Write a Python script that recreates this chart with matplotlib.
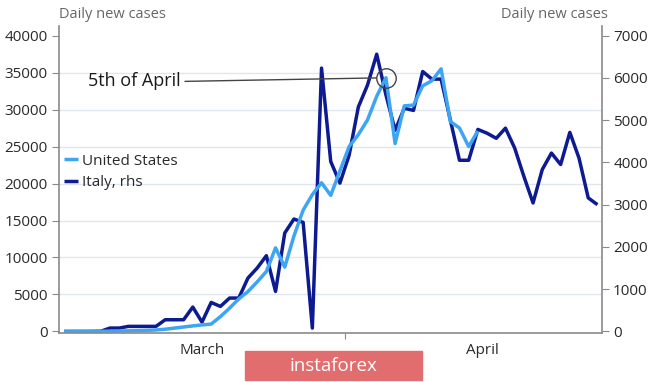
import matplotlib
matplotlib.use('Agg')
import matplotlib.pyplot as plt
from matplotlib.patches import Rectangle
from matplotlib.ticker import FixedLocator

# daily new cases, one value per day starting 1 March
us_cases = [0, 0, 10, 20, 30, 40, 60, 80, 110, 150,
            200, 300, 450, 600, 750, 880, 1000, 2000, 3150, 4400,
            5400, 6700, 8100, 11300, 8700, 12900, 16400, 18500, 20100, 18400,
            21700, 25000, 26600, 28600, 31800, 34300, 25400, 30500, 30600, 33200,
            33900, 35500, 28400, 27500, 25000, 27100]
italy_cases = [0, 0, 0, 0, 5, 80, 80, 120, 120, 120,
               120, 277, 277, 277, 577, 220, 686, 592, 790, 790,
               1264, 1500, 1792, 947, 2329, 2660, 2580, 80, 6230, 4020,
               3510, 4170, 5310, 5830, 6560, 5600, 4760, 5280, 5230, 6150,
               5970, 5970, 5010, 4050, 4050, 4780, 4690, 4570, 4810, 4340,
               3670, 3040, 3830, 4220, 3950, 4710, 4100, 3160, 3000]
left_ticks = list(range(0, 40001, 5000))
right_ticks = list(range(0, 7001, 1000))
months = ['March', 'April']
month_centers = [15, 45.5]
month_border = 30.5
peak_day = 35

us_color = '#3da5f2'
italy_color = '#0d1a90'
text_color = '#2a2a2a'
spine_color = '#8a8a8a'

plt.rcParams.update({'font.family': ['Open Sans', 'DejaVu Sans'], 'font.size': 11})

fig = plt.figure(figsize=(6.65, 3.82), dpi=100)
ax = fig.add_axes([0.088, 0.1275, 0.8173, 0.8045])
ax2 = ax.twinx()
ax.set_zorder(ax2.get_zorder() + 1)
ax.patch.set_visible(False)

l2, = ax2.plot(range(len(italy_cases)), italy_cases, color=italy_color, lw=2.5,
               solid_joinstyle='round', solid_capstyle='butt')
l1, = ax.plot(range(len(us_cases)), us_cases, color=us_color, lw=2.5,
              solid_joinstyle='round', solid_capstyle='butt')

ax.set_xlim(-0.6, 58.5)
ax.set_ylim(-250, 41300)
ax2.set_ylim(-250 * 7000 / 40000, 41300 * 7000 / 40000)

ax.set_yticks(left_ticks)
ax2.set_yticks(right_ticks)
# grid drawn on the rhs axes at the lhs tick positions, so lines stay on top
ax2.yaxis.set_minor_locator(FixedLocator([v * 7000 / 40000 for v in left_ticks]))
ax2.grid(which='minor', axis='y', color='#dfe6ee', lw=1)
ax2.tick_params(axis='y', which='minor', length=0)

ax.set_xticks([month_border])
ax.set_xticklabels([''])
ax.set_xticks(month_centers, minor=True)
ax.set_xticklabels(months, minor=True)
ax.tick_params(axis='x', which='major', length=4, color=spine_color)
ax.tick_params(axis='x', which='minor', length=0, pad=7, labelsize=11, labelcolor=text_color)
ax.tick_params(axis='y', length=5, color=spine_color, pad=3, labelsize=11, labelcolor=text_color)
ax2.tick_params(axis='y', which='major', length=5, color=spine_color, pad=3, labelsize=11,
                labelcolor=text_color)

for a in (ax, ax2):
    a.spines['top'].set_visible(False)
    for s in a.spines.values():
        s.set_color(spine_color)
        s.set_linewidth(1.2)
ax.spines['right'].set_visible(False)
ax2.spines['left'].set_visible(False)
ax2.spines['bottom'].set_visible(False)

ax.plot([peak_day], [us_cases[peak_day]], 'o', ms=14, mfc='none', mec='#444444', mew=1)
ax.annotate('5th of April', xy=(peak_day, us_cases[peak_day]), xytext=(12.7, 33800),
            ha='right', va='center', fontsize=13, color='#1a1a1a',
            arrowprops=dict(arrowstyle='-', color='#444444', lw=1, shrinkA=1, shrinkB=7,
                            relpos=(1, 0.5)))

ax.legend([l1, l2], ['United States', 'Italy, rhs'], loc='center left',
          bbox_to_anchor=(0.01, 0.525), frameon=False, handlelength=0.9,
          handletextpad=0.25, labelspacing=0.45, borderpad=0, borderaxespad=0,
          fontsize=11, labelcolor=text_color)

fig.text(59 / 665, 0.963, 'Daily new cases', ha='left', va='center', fontsize=10.5, color='#666666')
fig.text(608 / 665, 0.963, 'Daily new cases', ha='right', va='center', fontsize=10.5, color='#666666')

# watermark box at the bottom
fig.patches.append(Rectangle((245 / 665, 0.005), 177 / 665, 0.076, transform=fig.transFigure,
                             color='#e26d6f', zorder=5))
fig.text(333.5 / 665, 0.043, 'instaforex', ha='center', va='center', fontsize=13.5,
         color='white', zorder=6)

fig.savefig('out.png', dpi=100)
